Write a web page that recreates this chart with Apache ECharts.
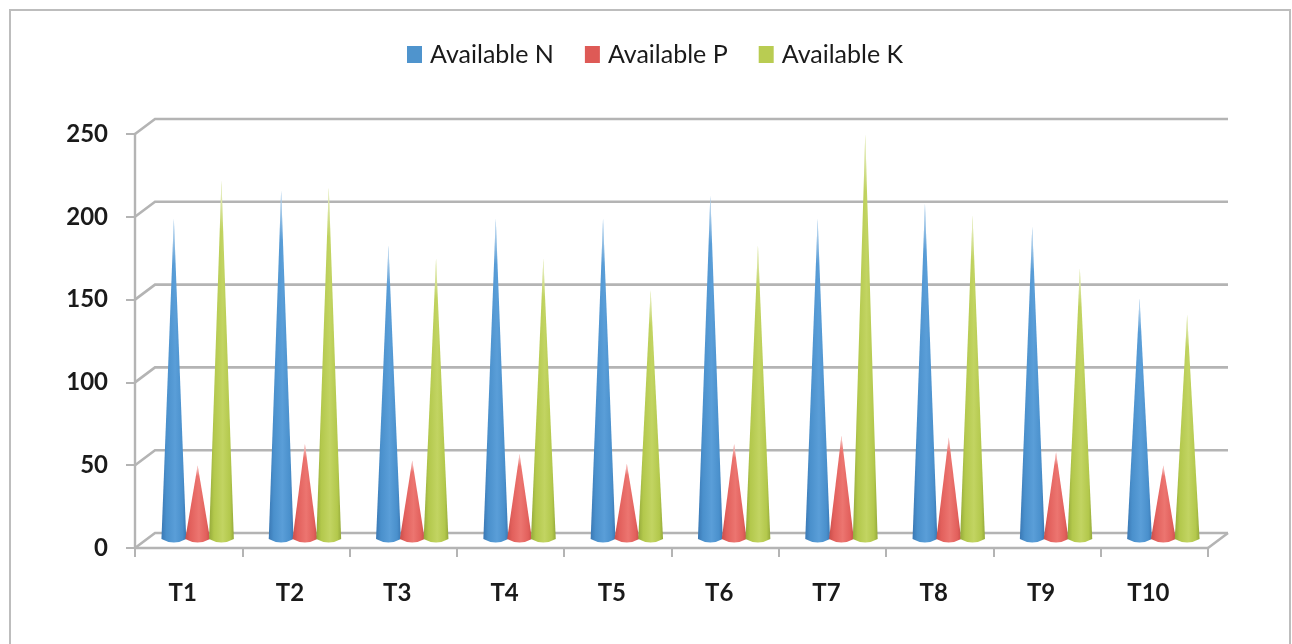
<!DOCTYPE html>
<html>
<head>
<meta charset="utf-8">
<title>Available N P K</title>
<script src="https://cdn.jsdelivr.net/npm/echarts@6/dist/echarts.min.js"></script>
<style>
html, body { margin: 0; padding: 0; background: #fff; }
#chart { width: 1292px; height: 644px; }
</style>
</head>
<body>
<div id="chart"></div>
<script>
var categories = ['T1','T2','T3','T4','T5','T6','T7','T8','T9','T10'];
var yTicks = [0, 50, 100, 150, 200, 250];
var availableN = [194, 211, 178, 194, 194, 208, 194, 203, 189, 146];
var availableP = [45, 58, 48, 52, 46, 58, 63, 62, 53, 45];
var availableK = [217, 213, 170, 170, 151, 178, 245, 196, 164, 136];

var grey = '#b4b4b4';
var depthX = 20, depthY = -15;   // how far the back wall sits from the front axes

// one cone, cut from the category band. seat = -1, 0, 1 for the three series
function coneItem(seat, edge, mid, light) {
    return function (params, api) {
        var apex = api.coord([api.value(0), api.value(1)]);
        var base = api.coord([api.value(0), 0]);
        var w = 12.4;
        var cx = apex[0] + seat * 23.8;
        var y0 = base[1] - 1;
        var path = 'M' + cx + ' ' + apex[1] +
            'L' + (cx + w) + ' ' + y0 +
            'Q' + cx + ' ' + (y0 + 7) + ' ' + (cx - w) + ' ' + y0 + 'Z';
        var box = { pathData: path, layout: 'cover', x: cx - w, y: apex[1], width: w * 2, height: y0 + 3.5 - apex[1] };
        return {
            type: 'group',
            children: [{
                type: 'path',
                shape: box,
                style: {
                    fill: new echarts.graphic.LinearGradient(0, 0, 1, 0, [
                        { offset: 0, color: edge },
                        { offset: 0.2, color: mid },
                        { offset: 0.55, color: light },
                        { offset: 0.85, color: mid },
                        { offset: 1, color: edge }
                    ])
                }
            }, {
                // the tips fade out in the picture
                type: 'path',
                shape: box,
                style: {
                    fill: new echarts.graphic.LinearGradient(0, 0, 0, 1, [
                        { offset: 0, color: 'rgba(255,255,255,0.75)' },
                        { offset: 0.14, color: 'rgba(255,255,255,0)' }
                    ])
                }
            }]
        };
    };
}

function coneSeries(name, values, seat, edge, mid, light) {
    return {
        name: name,
        type: 'custom',
        xAxisIndex: 1,
        yAxisIndex: 1,
        z: 5,
        silent: true,
        renderItem: coneItem(seat, edge, mid, light),
        encode: { x: 0, y: 1 },
        data: values.map(function (v, i) { return [i, v]; })
    };
}

// wall lines: from the front tick back along the side, then across the wall
function wallItem(params, api) {
    var p = api.coord([0, api.value(0)]);
    var band = api.size([1, 0])[0];
    var left = p[0] - band / 2;
    var right = left + band * categories.length;
    var children = [{
        type: 'polyline',
        shape: { points: [[left, p[1]], [left + depthX, p[1] + depthY], [right + depthX, p[1] + depthY]] },
        style: { stroke: grey, lineWidth: 2.6, fill: null }
    }];
    if (api.value(0) === 0) {
        children.push({
            type: 'line',
            shape: { x1: right, y1: p[1], x2: right + depthX, y2: p[1] + depthY },
            style: { stroke: grey, lineWidth: 2.6 }
        });
    }
    return { type: 'group', children: children };
}

var chart = echarts.init(document.getElementById('chart'));
chart.setOption({
    animation: false,
    backgroundColor: '#fff',
    textStyle: { fontFamily: 'Lato' },
    graphic: [{
        type: 'rect',
        shape: { x: 10, y: 10, width: 1280, height: 660 },
        style: { fill: 'none', stroke: '#bdbdbd', lineWidth: 2 },
        silent: true
    }],
    legend: {
        top: 37,
        left: 402,
        itemWidth: 15,
        itemHeight: 17,
        itemGap: 31,
        selectedMode: false,
        textStyle: { fontSize: 25, color: '#1a1a1a', fontFamily: 'Lato', padding: [0, 0, 0, 3] },
        data: [
            { name: 'Available N', icon: 'rect', itemStyle: { color: '#4f94cd' } },
            { name: 'Available P', icon: 'rect', itemStyle: { color: '#de5a56' } },
            { name: 'Available K', icon: 'rect', itemStyle: { color: '#b9cc52' } }
        ]
    },
    grid: [
        { left: 135, right: 84, top: 134, height: 414 },
        { left: 144, right: 75, top: 126, height: 414 }
    ],
    xAxis: [{
        type: 'category',
        data: categories,
        gridIndex: 0,
        boundaryGap: true,
        axisLine: { lineStyle: { color: grey, width: 2.4 } },
        axisTick: { show: true, length: 9, lineStyle: { color: grey, width: 2 } },
        axisLabel: { fontSize: 24, fontWeight: 'bold', color: '#1a1a1a', margin: 33, padding: [0, 12, 0, 0], fontFamily: 'Lato' },
        splitLine: { show: false }
    }, {
        type: 'category',
        data: categories,
        gridIndex: 1,
        show: false
    }],
    yAxis: [{
        type: 'value',
        gridIndex: 0,
        min: 0,
        max: 250,
        interval: 50,
        axisLine: { show: true, lineStyle: { color: grey, width: 2.4 } },
        axisTick: { show: true, length: 9, lineStyle: { color: grey, width: 2 } },
        axisLabel: { fontSize: 24, fontWeight: 'bold', color: '#1a1a1a', margin: 27, fontFamily: 'Lato' },
        splitLine: { show: false }
    }, {
        type: 'value',
        gridIndex: 1,
        min: 0,
        max: 250,
        show: false
    }],
    series: [{
        type: 'custom',
        xAxisIndex: 0,
        yAxisIndex: 0,
        z: 1,
        silent: true,
        renderItem: wallItem,
        encode: { y: 0 },
        data: yTicks.map(function (t) { return [t]; })
    },
    coneSeries('Available N', availableN, -1, '#3a78b4', '#4a90cc', '#5a9ed8'),
    coneSeries('Available P', availableP, 0, '#c94e4a', '#e2605c', '#ec7570'),
    coneSeries('Available K', availableK, 1, '#94a93a', '#b3c84c', '#c2d462')]
});
</script>
</body>
</html>
